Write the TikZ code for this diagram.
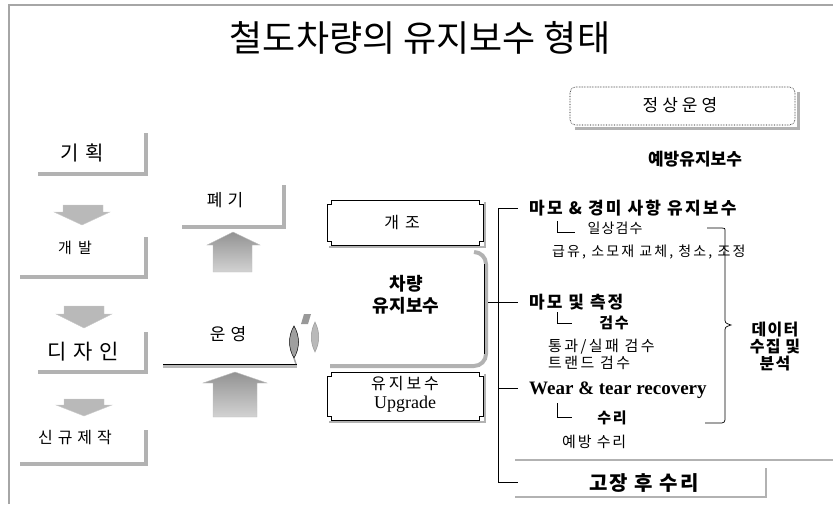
\documentclass[tikz,border=0pt]{standalone}
\usepackage{fontspec}
\newfontfamily\kr{Noto Sans CJK KR}
\newfontfamily\tms{Liberation Serif}
\usetikzlibrary{calc}
\begin{document}
\begin{tikzpicture}[x=1pt,y=-1pt,
  lbar/.style={draw=gray!60, line width=4pt},
  thinln/.style={draw=black, line width=0.7pt},
  txt/.style={inner sep=0pt, font=\kr\fontsize{#1}{#1}\selectfont},
  btxt/.style={inner sep=0pt, font=\kr\bfseries\fontsize{#1}{#1}\selectfont},
  ltxt/.style 2 args={inner sep=0pt, font=\kr\fontsize{#1}{#1}\selectfont\addfontfeature{LetterSpace=#2}},
  lbtxt/.style 2 args={inner sep=0pt, font=\kr\bfseries\fontsize{#1}{#1}\selectfont\addfontfeature{LetterSpace=#2}},
  downarr/.style={fill=gray!55, draw=gray!40, line width=0.4pt},
  uparr/.style={top color=gray!85, bottom color=gray!35, draw=gray!50, line width=0.4pt},
  notchbox/.style={draw=black, line width=0.6pt, fill=white},
  shadowln/.style={draw=gray!60, line width=2pt}
]
\useasboundingbox (0,0) rectangle (833,504);
% frame
\draw[gray!70, line width=1.3pt] (9,504) -- (9,5) -- (833,5);

% title
\node[txt=36] (title) at (420,38) {철도차량의 유지보수 형태};

% ---- left column ----
\node[txt=20] (plan) at (82,153) {기\hspace{7pt}획};
\draw[lbar] (38,174) -- (146,174) -- (146,133);
\draw[downarr] (63,205) -- (103,205) -- (103,212) -- (110,212) -- (82,225) -- (54,212) -- (63,212) -- cycle;

\node[txt=15] (dev) at (75,248) {개\hspace{6pt}발};
\draw[lbar] (20,277) -- (146,277) -- (146,237);
\draw[downarr] (64,306) -- (104,306) -- (104,314) -- (112,314) -- (84,328) -- (56,314) -- (64,314) -- cycle;

\node[txt=21] (design) at (83,352) {디\hspace{7pt}자\hspace{7pt}인};
\draw[lbar] (38,372) -- (146,372) -- (146,332);
\draw[downarr] (64,399) -- (104,399) -- (104,405) -- (112,405) -- (84,416) -- (56,405) -- (64,405) -- cycle;

\node[txt=16] (newmake) at (75,438) {신\hspace{5pt}규\hspace{5pt}제\hspace{5pt}작};
\draw[lbar] (20,464) -- (146,464) -- (146,430);

% ---- 폐기 / 운영 ----
\node[txt=17] (scrap) at (225,200) {폐\hspace{5pt}기};
\draw[lbar] (182,227) -- (284,227) -- (284,185);
\draw[uparr] (213,272) -- (213,245) -- (207,245) -- (233,232) -- (260,245) -- (252,245) -- (252,272) -- cycle;

\node[txt=17] (oper) at (228,334) {운\hspace{5pt}영};
\draw[gray!55, line width=3pt] (163,366) -- (297,366);
\draw[black, line width=0.6pt] (163,364.5) -- (297,364.5);
\draw[uparr] (213,417) -- (213,383) -- (203,383) -- (235,372) -- (267,383) -- (257,383) -- (257,417) -- cycle;

% cycle symbol
\draw[fill=gray!75, draw=black, line width=0.5pt] (294,326) .. controls (288,336) and (288,348) .. (294,358) .. controls (300,348) and (300,336) .. cycle;
\draw[fill=gray!55, draw=gray!80, line width=0.5pt] (315,322) .. controls (310,332) and (310,342) .. (315,352) .. controls (320,342) and (320,332) .. cycle;
\draw[fill=gray!80, draw=none] (304,314) -- (311,314) -- (308,324) -- (301,324) -- cycle;
\draw[gray!70, line width=1.5pt] (294,358) -- (296,364);

% ---- middle boxes ----
\draw[shadowln] (329,247) -- (485,247) -- (485,202);
\draw[notchbox] (331,200) -- (479,200) -- (479,204) -- (483,204) -- (483,241) -- (479,241) -- (479,245) -- (331,245) -- (331,241) -- (327,241) -- (327,204) -- (331,204) -- cycle;
\node[txt=16] (mod) at (402,223) {개\hspace{6pt}조};

\draw[gray!60, line width=4pt] (474,252) arc[start angle=-90, end angle=0, radius=12] -- (486,354) arc[start angle=0, end angle=90, radius=12] -- (330,366);
\draw[black, line width=0.5pt] (484,264) -- (484,354);
\coordinate (vmright) at (488,302);
\node[btxt=18, align=center] (vm) at (406,295) {차량\\[4pt]유지보수};

\draw[shadowln] (329,422) -- (485,422) -- (485,374);
\draw[notchbox] (331,372) -- (479,372) -- (479,376) -- (483,376) -- (483,416) -- (479,416) -- (479,420) -- (331,420) -- (331,416) -- (327,416) -- (327,376) -- (331,376) -- cycle;
\node[txt=16] (maint) at (405,384) {유\hspace{3pt}지\hspace{3pt}보\hspace{3pt}수};
\node[inner sep=0pt, font=\tms\fontsize{18}{18}\selectfont] (upg) at (405,404) {Upgrade};

% ---- right side ----
\draw[gray!60, line width=3pt] (575,128) -- (798,128) -- (798,92);
\draw[black, line width=0.6pt, densely dotted, rounded corners=6pt, fill=white] (570,87) rectangle (795,125);
\node[txt=17] (normal) at (680,105) {정\hspace{4pt}상\hspace{4pt}운\hspace{4pt}영};
\node[btxt=17] (prev) at (695,159) {예방유지보수};

\coordinate (vtop) at (498,208);
\coordinate (vbot) at (498,482);
\draw[thinln] (vtop) -- (vbot);

\node[lbtxt={17}{13}, anchor=west] (wear1) at (529,208) {마모 \& 경미 사항 유지보수};
\draw[thinln] (vtop) -- (518,208);
\draw[thinln] (557,221) -- (557,232) -- (575,232);
\node[ltxt={14}{8}] (daily) at (615,228) {일상검수};
\node[ltxt={14}{15}, anchor=west] (lube) at (552,252) {급유, 소모재 교체, 청소, 조정};

\node[lbtxt={17}{12}, anchor=west] (meas) at (529,302) {마모 및 측정};
\draw[thinln] (vmright) -- (518,302);
\draw[thinln] (557,312) -- (557,323) -- (572,323);
\node[lbtxt={15}{10}] (insp) at (614,323) {검수};
\node[ltxt={15}{16}, anchor=west] (pf) at (548,347) {통과/실패 검수};
\node[ltxt={15}{16}, anchor=west] (trend) at (548,363) {트랜드 검수};

\node[inner sep=0pt, anchor=west, font=\tms\bfseries\fontsize{19}{19}\selectfont] (wtr) at (529,390) {Wear \& tear recovery};
\draw[thinln] (498,388) -- (518,388);
\draw[thinln] (557,403) -- (557,417) -- (572,417);
\node[lbtxt={15}{10}] (repair) at (612,418) {수리};
\node[ltxt={15}{12}, anchor=west] (prevrep) at (562,442) {예방 수리};

% brace
\draw[thinln] (707,228) -- (722,228) .. controls (725,228) .. (725,232) -- (725,318) .. controls (725,323) .. (731,325) .. controls (725,327) .. (725,332) -- (725,416) .. controls (725,423) .. (718,423) -- (705,423);
\node[lbtxt={16}{8}, align=center] (data) at (775,346) {데이터\\[1pt]수집 및\\[1pt]분석};

% 고장 후 수리
\draw[gray!60, line width=2pt] (515,460) -- (833,460);
\draw[gray!60, line width=2pt] (515,497) -- (766,497) -- (766,468);
\draw[thinln] (vbot) -- (518,482);
\node[lbtxt={20}{10}] (fail) at (644,483) {고장 후 수리};
\end{tikzpicture}
\end{document}
